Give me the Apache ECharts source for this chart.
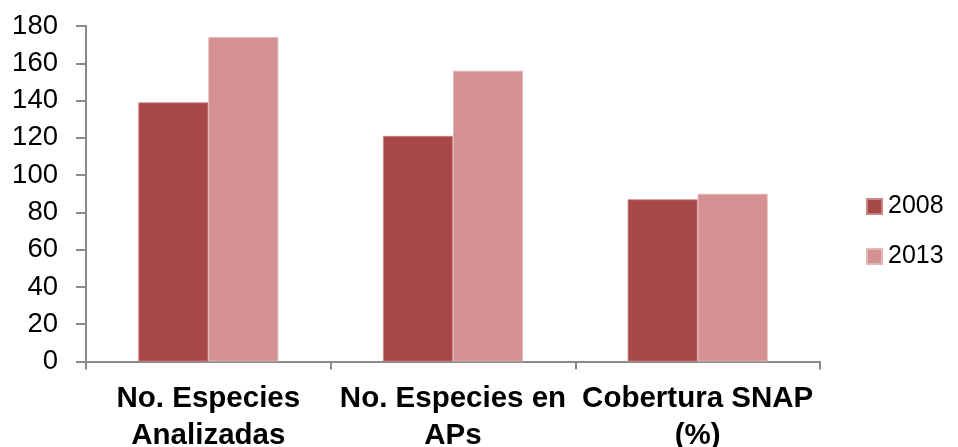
<!DOCTYPE html>
<html>
<head>
<meta charset="utf-8">
<script src="https://cdn.jsdelivr.net/npm/echarts@6/dist/echarts.min.js"></script>
<style>
  html, body { margin: 0; padding: 0; background: #fff; }
  #chart { width: 958px; height: 447px; }
</style>
</head>
<body>
<div id="chart"></div>
<script>
const categories = ['No. Especies\nAnalizadas', 'No. Especies en\nAPs', 'Cobertura SNAP\n(%)'];
const values2008 = [139, 121, 87];
const values2013 = [174, 156, 90];
const yTicks = { min: 0, max: 180, interval: 20 };

const axisGray = '#8a8a8a';
const font = 'Liberation Sans, Arial, sans-serif';

const chart = echarts.init(document.getElementById('chart'));
chart.setOption({
  animation: false,
  grid: { left: 86, right: 138, top: 26, bottom: 85.5, containLabel: false, outerBoundsMode: 'none' },
  legend: {
    orient: 'vertical',
    left: 866,
    top: 194,
    padding: 0,
    itemWidth: 15,
    itemHeight: 15,
    itemGap: 25,
    icon: 'rect',
    textStyle: { fontFamily: font, fontSize: 25, color: '#000', lineHeight: 25, padding: [0, 0, 0, 1] },
    data: ['2008', '2013']
  },
  xAxis: {
    type: 'category',
    data: categories,
    axisLine: { lineStyle: { color: axisGray, width: 2 } },
    axisTick: { show: true, length: 8, lineStyle: { color: axisGray, width: 2 } },
    axisLabel: {
      interval: 0,
      margin: 19,
      fontFamily: font,
      fontWeight: 'bold',
      fontSize: 29.5,
      lineHeight: 37,
      color: '#000'
    }
  },
  yAxis: {
    type: 'value',
    min: yTicks.min,
    max: yTicks.max,
    interval: yTicks.interval,
    axisLine: { show: true, lineStyle: { color: axisGray, width: 2 } },
    axisTick: { show: true, length: 10, lineStyle: { color: axisGray, width: 2 } },
    splitLine: { show: false },
    axisLabel: { margin: 28, fontFamily: font, fontSize: 27.5, color: '#000' }
  },
  series: [
    {
      name: '2008',
      type: 'bar',
      data: values2008,
      barWidth: 70,
      barGap: '0%',
      itemStyle: { color: '#A84846', borderColor: '#c98584', borderWidth: 0.8 }
    },
    {
      name: '2013',
      type: 'bar',
      data: values2013,
      barWidth: 70,
      itemStyle: { color: '#D39291', borderColor: '#e4b8b7', borderWidth: 0.8 }
    }
  ]
});
</script>
</body>
</html>
